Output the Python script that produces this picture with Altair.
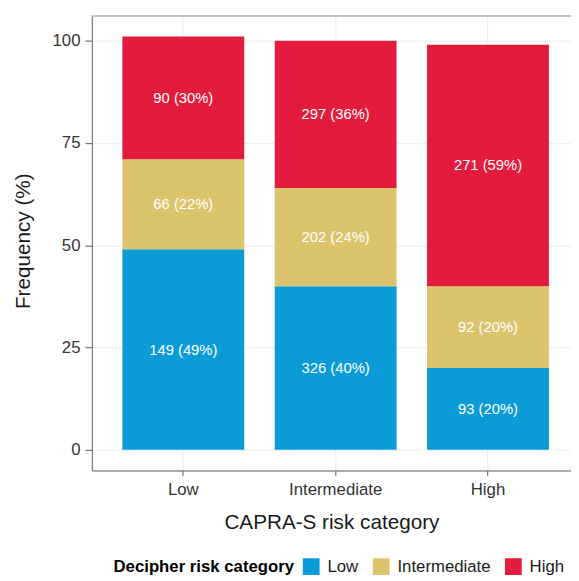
import altair as alt
import pandas as pd

capra = ["Low", "Intermediate", "High"]
decipher = ["Low", "Intermediate", "High"]
# counts per CAPRA category, per Decipher category (Low, Intermediate, High)
counts = {
    "Low": [149, 66, 90],
    "Intermediate": [326, 202, 297],
    "High": [93, 92, 271],
}
pcts = {
    "Low": [49, 22, 30],
    "Intermediate": [40, 24, 36],
    "High": [20, 20, 59],
}
colors = ["#0b9bd7", "#dcc46d", "#e31b3c"]

rows = []
for c in capra:
    for i, d in enumerate(decipher):
        rows.append({"capra": c, "decipher": d, "idx": i,
                     "n": counts[c][i], "pct": pcts[c][i],
                     "label": f"{counts[c][i]} ({pcts[c][i]}%)"})
df = pd.DataFrame(rows)

FONT = "Liberation Sans"
W = 486

xenc = alt.X("capra:N", sort=capra,
             scale=alt.Scale(paddingInner=0.2, paddingOuter=0.1728, align=0.5805),
             axis=alt.Axis(title="CAPRA-S risk category", labelAngle=0,
                           labelFontSize=17, labelColor="#333333", labelPadding=6,
                           tickSize=5, tickColor="#555555", domainColor="#666666",
                           titleFontSize=21, titleFontWeight="normal", titleColor="#1a1a1a",
                           titlePadding=15, grid=True, gridColor="#ececec"))

base = alt.Chart(df).transform_stack(
    stack="pct", as_=["y0", "y1"], groupby=["capra"],
    sort=[alt.SortField("idx", order="ascending")]
)

bars = base.mark_bar().encode(
    x=xenc,
    y=alt.Y("y0:Q", scale=alt.Scale(domain=[-5.05, 106.05], nice=False, zero=False),
            axis=alt.Axis(title="Frequency (%)", values=[0, 25, 50, 75, 100],
                          labelFontSize=17, labelColor="#333333", labelPadding=5,
                          tickSize=7, tickColor="#555555", domainColor="#666666",
                          titleFontSize=21, titleFontWeight="normal", titleColor="#1a1a1a",
                          titleX=-69, titleY=228, titleBaseline="middle", titleAngle=-90,
                          grid=True, gridColor="#ececec")),
    y2="y1:Q",
    color=alt.Color("decipher:N", sort=decipher,
                    scale=alt.Scale(domain=decipher, range=colors),
                    legend=alt.Legend(title="Decipher risk category", orient="none",
                                      direction="horizontal", legendX=22, legendY=550,
                                      titleOrient="left", titleFontSize=17,
                                      titleFontWeight="bold", titleColor="#000000",
                                      titlePadding=8, titleLimit=400, labelFontSize=17,
                                      labelColor="#1a1a1a", labelLimit=300,
                                      symbolType="square",
                                      symbolSize=289, symbolStrokeWidth=0,
                                      labelOffset=8, columnPadding=14)),
)

text = base.transform_calculate(mid="(datum.y0 + datum.y1) / 2").mark_text(
    color="white", fontSize=15, font=FONT
).encode(
    x=alt.X("capra:N", sort=capra),
    y="mid:Q",
    text="label:N",
)

topline = alt.Chart(df).mark_rule(color="#c4c4c4", strokeWidth=1).encode(
    x=alt.value(0), x2=alt.value(W), y=alt.value(0)
)

chart = alt.layer(bars, text, topline).properties(
    width=W, height=461,
    padding={"left": 85, "top": 4, "right": 0, "bottom": 108},
    autosize=alt.AutoSizeParams(type="none"),
).configure_view(stroke=None).configure(font=FONT)

chart.save("out.html", embed_options={"renderer": "svg", "actions": False})
